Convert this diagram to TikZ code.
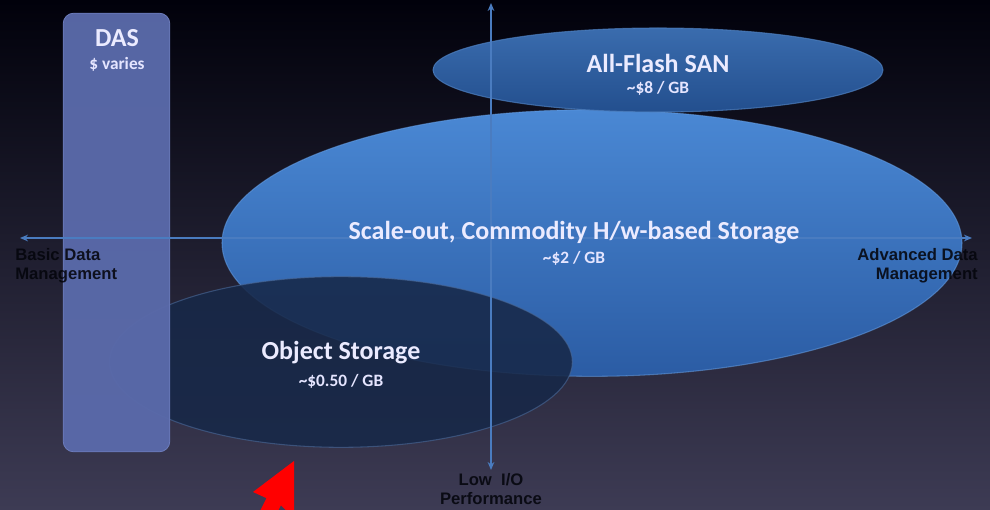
\documentclass[tikz,border=0pt]{standalone}
\usepackage{fontspec}
\setmainfont{Carlito}
\newfontfamily\axisfont{Liberation Sans}
\usetikzlibrary{shapes.geometric,arrows.meta}

\definecolor{bgtop}{HTML}{01010B}
\definecolor{bgmid}{HTML}{17163A}
\definecolor{bgbot}{HTML}{3D3B54}
\definecolor{scaletop}{HTML}{4A88D4}
\definecolor{scalebot}{HTML}{2B5CA4}
\definecolor{scalerim}{HTML}{6AA4EA}
\definecolor{flashtop}{HTML}{3A6CAE}
\definecolor{flashbot}{HTML}{234F8E}
\definecolor{flashrim}{HTML}{4E80C0}
\definecolor{objfill}{HTML}{172848}
\definecolor{objrim}{HTML}{4A6A9A}
\definecolor{dasfill}{HTML}{5A6AAA}
\definecolor{dasrim}{HTML}{6C7CBC}
\definecolor{axisblue}{HTML}{4A7CC0}
\definecolor{labeldark}{HTML}{04050C}
\definecolor{cursorred}{HTML}{FF0000}

\tikzset{
  bubble/.style={ellipse, inner sep=0pt},
  title/.style={font=\bfseries\fontsize{19.5}{22}\selectfont, text=white!92!blue},
  price/.style={font=\bfseries\fontsize{13}{15}\selectfont, text=white!90!blue},
  axisline/.style={draw=axisblue, line width=0.9pt, {Stealth[length=6pt,width=5pt]}-{Stealth[length=6pt,width=5pt]}},
  axislabel/.style={font=\axisfont\bfseries\fontsize{12.5}{14.5}\selectfont, text=labeldark, text opacity=0.88, inner sep=0pt}
}

\begin{document}
\begin{tikzpicture}[x=0.75pt,y=-0.75pt]
  % backdrop
  \fill[top color=bgtop, middle color=bgmid, bottom color=bgbot] (0,0) rectangle (990,510);
  \useasboundingbox (0,0) rectangle (990,510);

  % storage tiers
  \node[bubble, minimum width=555pt, minimum height=200pt,
        top color=scaletop, bottom color=scalebot,
        draw=scalerim, draw opacity=0.5, line width=0.8pt] (scaleout) at (592,243) {};
  \node[bubble, minimum width=337.5pt, minimum height=63pt,
        top color=flashtop, bottom color=flashbot,
        draw=flashrim, draw opacity=0.7, line width=0.8pt] (flash) at (658,70) {};
  \node[bubble, minimum width=347pt, minimum height=128pt,
        fill=objfill, fill opacity=0.88,
        draw=objrim, draw opacity=0.6, line width=0.8pt] (object) at (341,362) {};
  \node[rectangle, rounded corners=8pt, minimum width=80pt, minimum height=329pt,
        fill=dasfill, fill opacity=0.96, draw=dasrim, line width=0.6pt] (das) at (116.5,232.5) {};

  % axes
  \coordinate (west) at (20,238);
  \coordinate (east) at (972,238);
  \coordinate (north) at (491,3);
  \coordinate (south) at (491,470);
  \draw[axisline] (west) -- (east);
  \draw[axisline] (south) -- (north);

  % tier labels
  \node[title] (dasT) at (117,38) {DAS};
  \node[price] (dasP) at (117,64) {\$ varies};
  \node[title] (flashT) at (658,63) {All-Flash SAN};
  \node[price] (flashP) at (658,88) {\textasciitilde\$8 / GB};
  \node[title] (scaleT) at (574,233) {Scale-out, Commodity H/w-based Storage};
  \node[price] (scaleP) at (574,258) {\textasciitilde\$2 / GB};
  \node[title] (objT) at (341,353) {Object Storage};
  \node[price] (objP) at (341,381) {\textasciitilde\$0.50 / GB};

  % axis labels
  \node[axislabel, anchor=west, align=left] (basic) at (15,266) {Basic Data\\Management};
  \node[axislabel, anchor=east, align=right] (advanced) at (978,266) {Advanced Data\\Management};
  \node[axislabel, align=center] (lowio) at (491,489) {Low\ \ I/O\\Performance};

  % pointer
  \begin{scope}
    \clip (0,0) rectangle (990,510);
    \fill[cursorred] (294,461) -- (294,518) -- (280.9,505.4) -- (254.1,559.1)
      -- (239.7,551.9) -- (266.5,498.2) -- (253,492) -- cycle;
  \end{scope}
\end{tikzpicture}
\end{document}
